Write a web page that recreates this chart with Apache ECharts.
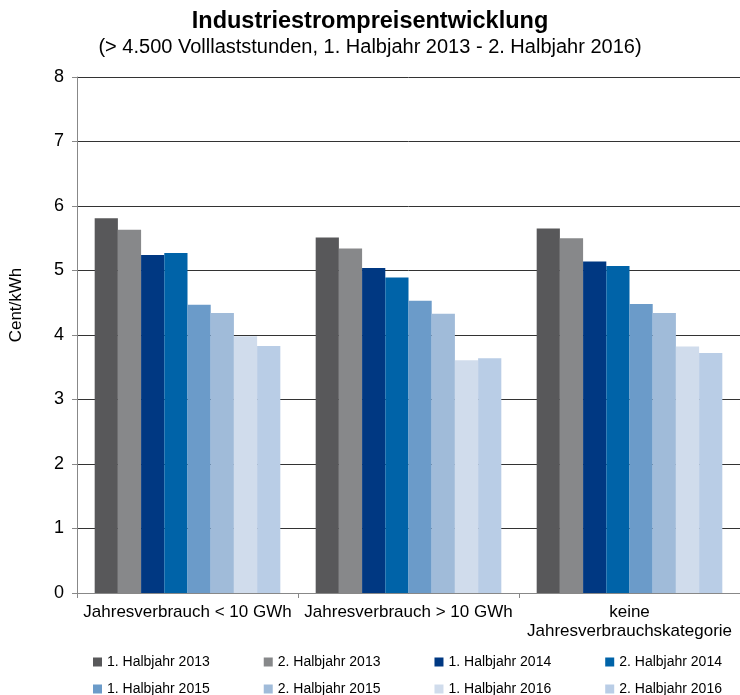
<!DOCTYPE html>
<html><head><meta charset="utf-8">
<script src="https://cdn.jsdelivr.net/npm/echarts@6/dist/echarts.min.js"></script>
<style>html,body{margin:0;padding:0;background:#fff}#c{width:740px;height:695px}</style>
</head><body><div id="c"></div>
<script>
const categories = ['Jahresverbrauch < 10 GWh', 'Jahresverbrauch > 10 GWh', 'keine\nJahresverbrauchskategorie'];
const seriesNames = ['1. Halbjahr 2013','2. Halbjahr 2013','1. Halbjahr 2014','2. Halbjahr 2014','1. Halbjahr 2015','2. Halbjahr 2015','1. Halbjahr 2016','2. Halbjahr 2016'];
const h1_2013 = [5.81, 5.51, 5.65];
const h2_2013 = [5.63, 5.34, 5.50];
const h1_2014 = [5.24, 5.04, 5.14];
const h2_2014 = [5.27, 4.89, 5.07];
const h1_2015 = [4.47, 4.53, 4.48];
const h2_2015 = [4.34, 4.33, 4.34];
const h1_2016 = [3.98, 3.61, 3.82];
const h2_2016 = [3.83, 3.64, 3.72];
const values = [h1_2013, h2_2013, h1_2014, h2_2014, h1_2015, h2_2015, h1_2016, h2_2016];
const colors = ['#58585a','#87888a','#003882','#0063a8','#6b9bc9','#a0bbd9','#d0dcec','#b9cde6'];
const F = 'Arial, "Liberation Sans", sans-serif';
const chart = echarts.init(document.getElementById('c'));
const legendCommon = {
  itemWidth: 9, itemHeight: 9, itemGap: 54, icon: 'rect',
  textStyle: {fontFamily: F, fontSize: 14, color: '#000'},
  selectedMode: false
};
chart.setOption({
  animation: false,
  color: colors,
  title: [{
    text: 'Industriestrompreisentwicklung',
    subtext: '(> 4.500 Volllaststunden, 1. Halbjahr 2013 - 2. Halbjahr 2016)',
    left: 'center', top: 5, itemGap: 3,
    textStyle: {fontFamily: F, fontSize: 23.5, fontWeight: 'bold', color: '#000'},
    subtextStyle: {fontFamily: F, fontSize: 20, color: '#000'}
  }],
  legend: [
    Object.assign({data: seriesNames.slice(0,4), left: 88, top: 650}, legendCommon),
    Object.assign({data: seriesNames.slice(4), left: 88, top: 677}, legendCommon)
  ],
  grid: {left: 76, right: -8, top: 77, bottom: 102},
  xAxis: {
    type: 'category', data: categories,
    axisLine: {lineStyle: {color: '#888'}},
    axisTick: {show: true, length: 5, lineStyle: {color: '#888'}},
    axisLabel: {fontFamily: F, fontSize: 17, color: '#000', margin: 10, lineHeight: 19, interval: 0}
  },
  yAxis: {
    type: 'value', min: 0, max: 8, interval: 1,
    name: 'Cent/kWh', nameLocation: 'middle', nameGap: 52,
    nameTextStyle: {fontFamily: F, fontSize: 17, color: '#000', padding: [0, 0, 0, 60]},
    axisLine: {show: true, lineStyle: {color: '#888'}},
    axisTick: {show: true, length: 5, lineStyle: {color: '#888'}},
    axisLabel: {fontFamily: F, fontSize: 18, color: '#000', margin: 13},
    splitLine: {lineStyle: {color: '#333', width: 1}}
  },
  series: seriesNames.map((n, i) => ({
    name: n, type: 'bar', data: values[i],
    barGap: '0%', barCategoryGap: '16%',
    itemStyle: {color: colors[i]}
  }))
});
</script></body></html>
